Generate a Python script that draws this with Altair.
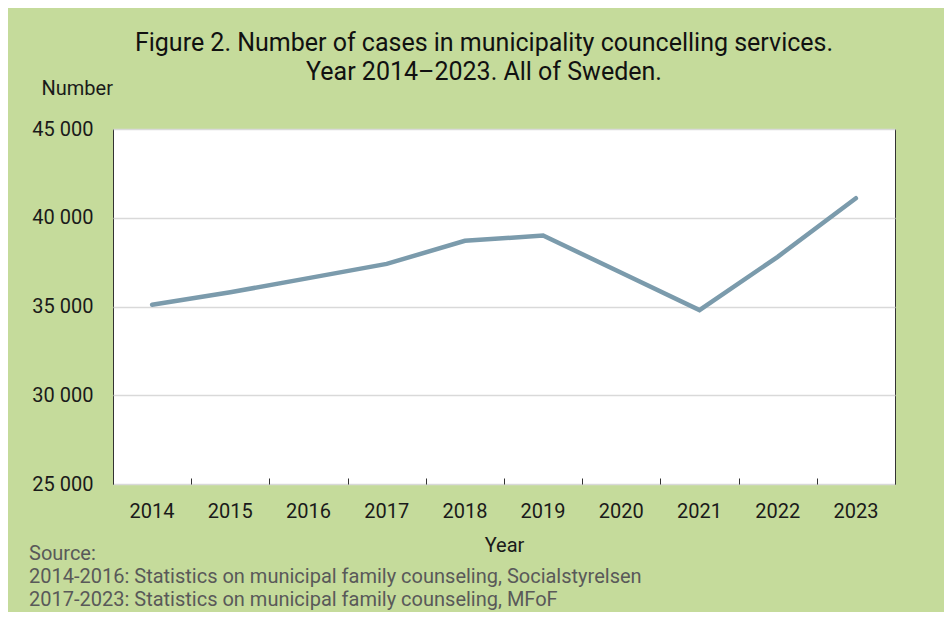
import altair as alt
import pandas as pd

years = ["2014", "2015", "2016", "2017", "2018", "2019", "2020", "2021", "2022", "2023"]
cases = [35100, 35800, 36600, 37400, 38700, 39000, 36900, 34800, 37800, 41100]
y_ticks = [25000, 30000, 35000, 40000, 45000]
title_lines = [
    "Figure 2. Number of cases in municipality councelling services.",
    "Year 2014\u20132023. All of Sweden.",
]
source_lines = [
    "Source:",
    "2014-2016: Statistics on municipal family counseling, Socialstyrelsen",
    "2017-2023: Statistics on municipal family counseling, MFoF",
]

df = pd.DataFrame({"Year": years, "Number": cases})
FONT = "Roboto"
BG = "#c5db9b"
LINE = "#7b9bac"

y_enc = alt.Y(
    "Number:Q",
    scale=alt.Scale(domain=[25000, 45000], nice=False, zero=False),
    axis=alt.Axis(
        values=y_ticks,
        labelExpr="replace(format(datum.value, ','), ',', ' ')",
        grid=True,
        gridColor="#d9d9d9",
        gridWidth=1.5,
        ticks=False,
        domain=False,
        labelPadding=20,
        labelFontSize=20,
        labelColor="#1a1a1a",
        labelFont=FONT,
        title="Number",
        titleAngle=0,
        titleX=-72,
        titleY=-41,
        titleAlign="left",
        titleBaseline="middle",
        titleFontSize=20,
        titleFontWeight="normal",
        titleFont=FONT,
        titleColor="#1a1a1a",
    ),
)

x_scale = alt.Scale(type="band", paddingInner=0, paddingOuter=0)

line = alt.Chart(df).mark_line(color=LINE, strokeWidth=4.5, strokeCap="round").encode(
    x=alt.X(
        "Year:N",
        sort=years,
        scale=x_scale,
        axis=alt.Axis(
            ticks=False,
            domain=False,
            grid=False,
            labelAngle=0,
            labelFontSize=20,
            labelFont=FONT,
            labelColor="#1a1a1a",
            labelPadding=17,
            title="Year",
            titleFontSize=20,
            titleFontWeight="normal",
            titleFont=FONT,
            titleColor="#1a1a1a",
            titlePadding=14,
        ),
    ),
    y=y_enc,
)

tick_layer = alt.Chart(df).mark_line(opacity=0).encode(
    x=alt.X(
        "Year:N",
        sort=years,
        scale=x_scale,
        axis=alt.Axis(
            orient="top",
            offset=-355,
            tickBand="extent",
            tickSize=6,
            tickColor="#333333",
            tickWidth=1,
            labels=False,
            domain=False,
            grid=False,
            title=None,
        ),
    ),
    y=y_enc,
)

source = alt.Chart(pd.DataFrame({"k": [0]})).mark_text(
    align="left",
    baseline="middle",
    fontSize=20,
    lineHeight=23,
    font=FONT,
    color="#595959",
).encode(
    x=alt.value(-84),
    y=alt.value(425),
    text=alt.value(source_lines),
)

chart = (
    alt.layer(line, tick_layer, source)
    .resolve_axis(x="independent")
    .properties(
        width=782,
        height=355,
        autosize=alt.AutoSizeParams(type="none"),
        padding={"left": 105, "top": 121, "right": 49, "bottom": 128},
        background=BG,
        title=alt.TitleParams(
            text=title_lines,
            anchor="middle",
            frame="group",
            dx=-20,
            dy=17,
            fontSize=25,
            lineHeight=29,
            font=FONT,
            fontWeight="normal",
            color="#111111",
            offset=10,
        ),
    )
    .configure_view(stroke="#333333", strokeWidth=1, fill="white")
)

chart.save("out.html", embed_options={"renderer": "svg", "actions": False})
